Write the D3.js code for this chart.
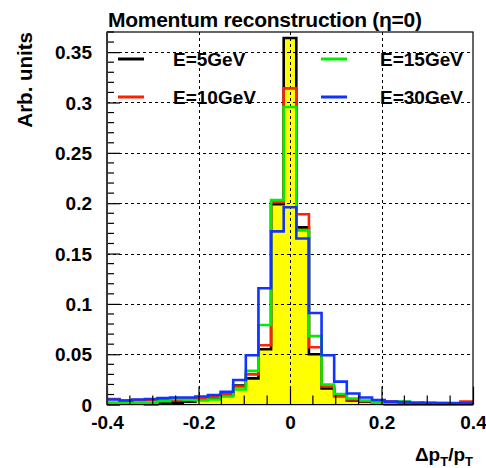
<!DOCTYPE html>
<html><head><meta charset="utf-8">
<script src="https://cdn.jsdelivr.net/npm/d3@7"></script>
<style>
body{margin:0;background:#fff}
svg{display:block}
text{font-family:"Liberation Sans",Arial,Helvetica,sans-serif;font-weight:bold;fill:#000}
</style>
</head><body>
<svg id="c" width="486" height="468"></svg>
<script>
// ---- data ----
const xRange = [-0.4, 0.4];
const nBins = 29;
const yRange = [0, 0.37];
const xTicks = [-0.4, -0.2, 0, 0.2, 0.4];
const xTickLabels = ["-0.4", "-0.2", "0", "0.2", "0.4"];
const xMinorStep = 0.05;
const yTicks = [0, 0.05, 0.1, 0.15, 0.2, 0.25, 0.3, 0.35];
const yTickLabels = ["0", "0.05", "0.1", "0.15", "0.2", "0.25", "0.3", "0.35"];
const yMinorStep = 0.01;
const seriesNames = ["E=5GeV", "E=10GeV", "E=15GeV", "E=30GeV"];
const seriesColors = ["#000000", "#ff2200", "#00ee00", "#1133ff"];
const e5GeV  = [0.001,0.001,0.0015,0.0005,0.002,0.002,0.003,0.005,0.006,0.010,0.019,0.026,0.055,0.199,0.364,0.176,0.050,0.016,0.0095,0.004,0.003,0.001,0.0005,0.0005,0.0005,0.0005,0.0003,0.0003,0.0003];
const e10GeV = [0.0055,0.004,0.0045,0.0045,0.005,0.0045,0.005,0.006,0.0075,0.010,0.018,0.030,0.059,0.201,0.314,0.189,0.057,0.018,0.008,0.005,0.0035,0.004,0.003,0.002,0.001,0.0015,0.001,0.001,0.003];
const e15GeV = [0.002,0.0015,0.002,0.002,0.0035,0.0055,0.0045,0.004,0.005,0.008,0.015,0.0335,0.079,0.203,0.2955,0.173,0.068,0.020,0.0105,0.006,0.004,0.002,0.002,0.003,0.0005,0.002,0.0015,0.001,0.001];
const e30GeV = [0.005,0.004,0.005,0.0055,0.0065,0.007,0.007,0.008,0.0095,0.0128,0.0245,0.049,0.1156,0.172,0.196,0.165,0.091,0.049,0.0228,0.011,0.007,0.0045,0.003,0.0025,0.002,0.0015,0.0015,0.0015,0.0015];
const titleText = "Momentum reconstruction (\u03B7=0)";
const yTitle = "Arb. units";

// ---- layout ----
const L = 107, R = 473, T = 32, B = 404.6;
const svg = d3.select("#c");
const x = d3.scaleLinear().domain(xRange).range([L, R]);
const y = d3.scaleLinear().domain(yRange).range([B, T]);
const binW = (xRange[1] - xRange[0]) / nBins;
const edges = d3.range(nBins + 1).map(i => xRange[0] + i * binW);

function stepPts(vals) {
  const p = vals.map((v, i) => [edges[i], v]);
  p.push([edges[nBins], vals[nBins - 1]]);
  return p;
}
const line = d3.line().x(d => x(d[0])).y(d => y(d[1])).curve(d3.curveStepAfter);
const area = d3.area().x(d => x(d[0])).y0(y(0)).y1(d => y(d[1])).curve(d3.curveStepAfter);

const data = [e5GeV, e10GeV, e15GeV, e30GeV];

// yellow fill of the 5 GeV histogram
svg.append("path").attr("d", area(stepPts(e5GeV))).attr("fill", "#ffff00");

// grid
const grid = svg.append("g").attr("stroke", "#000").attr("stroke-width", 1).attr("stroke-dasharray", "3,3");
xTicks.slice(1, -1).forEach(v => grid.append("line")
  .attr("x1", Math.round(x(v)) + 0.5).attr("x2", Math.round(x(v)) + 0.5).attr("y1", T).attr("y2", B));
yTicks.slice(1).forEach(v => grid.append("line")
  .attr("x1", L).attr("x2", R).attr("y1", Math.round(y(v)) + 0.5).attr("y2", Math.round(y(v)) + 0.5));

// histograms
data.forEach((vals, k) => {
  svg.append("path").attr("d", line(stepPts(vals)))
    .attr("fill", "none").attr("stroke", seriesColors[k]).attr("stroke-width", 2.6);
});

// frame
svg.append("rect").attr("x", L).attr("y", T).attr("width", R - L).attr("height", B - T)
  .attr("fill", "none").attr("stroke", "#000").attr("stroke-width", 1.2);

// x axis ticks
const xAxis = d3.axisBottom(x).tickValues(xTicks).tickFormat((d, i) => xTickLabels[i]).tickSize(-18).tickPadding(0);
const gx = svg.append("g").attr("transform", `translate(0,${B})`).call(xAxis);
gx.select(".domain").remove();
gx.selectAll(".tick line").attr("stroke", "#000").attr("stroke-width", 1.2);
gx.selectAll(".tick text").attr("font-size", 19).attr("y", 24).attr("dy", 0).style("font-family", null);
const xMinor = d3.range(Math.round((xRange[1] - xRange[0]) / xMinorStep) + 1).map(i => xRange[0] + i * xMinorStep)
  .filter(v => !xTicks.some(t => Math.abs(t - v) < 1e-9));
svg.append("g").selectAll("line").data(xMinor).join("line")
  .attr("x1", d => x(d)).attr("x2", d => x(d)).attr("y1", B).attr("y2", B - 9)
  .attr("stroke", "#000").attr("stroke-width", 1.2);

// y axis ticks
const yAxis = d3.axisLeft(y).tickValues(yTicks).tickFormat((d, i) => yTickLabels[i]).tickSize(-13).tickPadding(0);
const gy = svg.append("g").attr("transform", `translate(${L},0)`).call(yAxis);
gy.select(".domain").remove();
gy.selectAll(".tick line").attr("stroke", "#000").attr("stroke-width", 1.2);
gy.selectAll(".tick text").attr("font-size", 19).attr("x", -15).attr("dy", "0.35em").style("font-family", null);
const yMinor = d3.range(Math.round((yRange[1] - yRange[0]) / yMinorStep) + 1).map(i => yRange[0] + i * yMinorStep)
  .filter(v => !yTicks.some(t => Math.abs(t - v) < 1e-9));
svg.append("g").selectAll("line").data(yMinor).join("line")
  .attr("x1", L).attr("x2", L + 7).attr("y1", d => y(d)).attr("y2", d => y(d))
  .attr("stroke", "#000").attr("stroke-width", 1.2);
svg.append("line").attr("x1", L).attr("x2", L).attr("y1", T).attr("y2", B).attr("stroke", "#333").attr("stroke-width", 1.8);

// title
svg.append("text").attr("x", 108).attr("y", 27).attr("font-size", 21).attr("textLength", 314).text(titleText);

// y title
svg.append("text").attr("transform", "translate(32,32) rotate(-90)").attr("text-anchor", "end")
  .attr("font-size", 20.5).text(yTitle);

// x title
const xt = svg.append("text").attr("x", 473).attr("y", 461).attr("text-anchor", "end").attr("font-size", 19);
xt.append("tspan").text("\u0394p");
xt.append("tspan").attr("font-size", 13).attr("dy", 5).text("T");
xt.append("tspan").attr("dy", -5).text("/p");
xt.append("tspan").attr("font-size", 13).attr("dy", 5).text("T");

// legend
const legPos = [[118, 59, 173], [118, 97, 173], [321, 59, 380], [321, 97, 380]];
seriesNames.forEach((name, k) => {
  const [lx, ly, tx] = legPos[k];
  svg.append("line").attr("x1", lx).attr("x2", lx + 26).attr("y1", ly).attr("y2", ly)
    .attr("stroke", seriesColors[k]).attr("stroke-width", 3);
  svg.append("text").attr("x", tx).attr("y", ly + 7).attr("font-size", 19).text(name);
});
</script>
</body></html>
